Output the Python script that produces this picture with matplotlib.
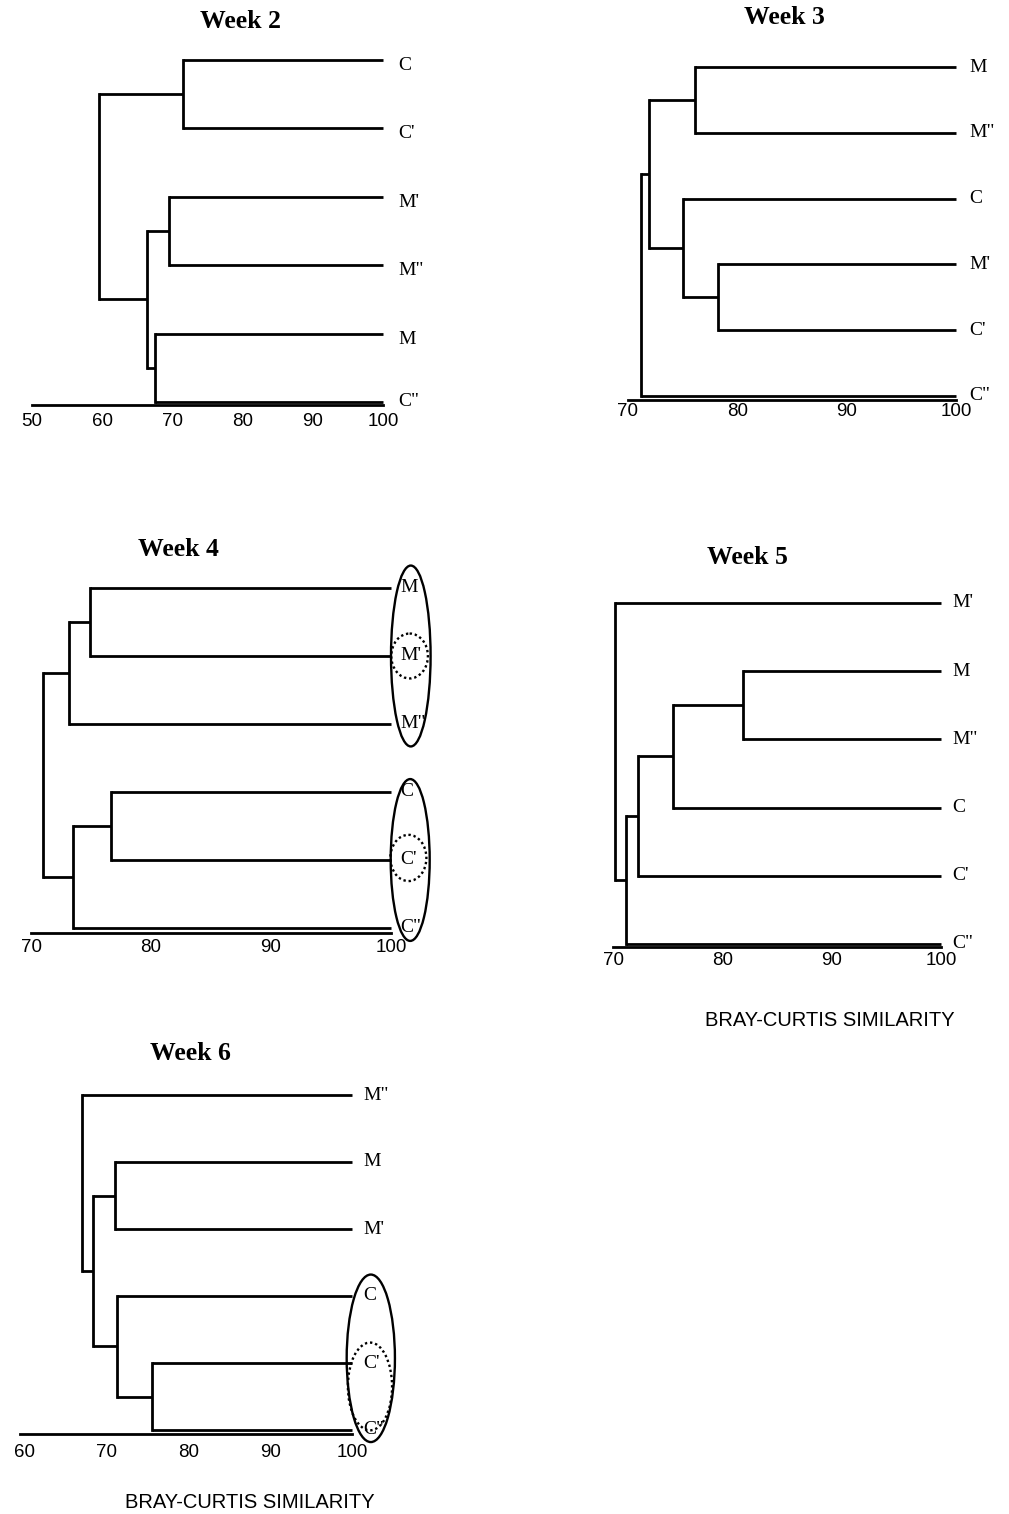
import matplotlib
matplotlib.use("Agg")
import matplotlib.pyplot as plt
from matplotlib.patches import Ellipse

# ---------------- data ----------------
week2_leaves = ["C", "C'", "M'", 'M"', "M", 'C"']
week2_merges = [(0, 1, 71.5), (2, 3, 69.5), (4, 5, 67.5), (7, 8, 66.4), (6, 9, 59.5)]
week2_ticks = [50, 60, 70, 80, 90, 100]

week3_leaves = ["M", 'M"', "C", "M'", "C'", 'C"']
week3_merges = [(0, 1, 76.1), (3, 4, 78.2), (2, 7, 75.0), (6, 8, 71.9), (9, 5, 71.2)]
week3_ticks = [70, 80, 90, 100]

week4_leaves = ["M", "M'", 'M"', "C", "C'", 'C"']
week4_merges = [(0, 1, 74.9), (6, 2, 73.2), (3, 4, 76.7), (8, 5, 73.5), (7, 9, 71.0)]
week4_ticks = [70, 80, 90, 100]
week4_groups = [[0, 1, 2], [1], [3, 4, 5], [4]]

week5_leaves = ["M'", "M", 'M"', "C", "C'", 'C"']
week5_merges = [(1, 2, 81.9), (6, 3, 75.5), (7, 4, 72.3), (8, 5, 71.2), (0, 9, 70.2)]
week5_ticks = [70, 80, 90, 100]

week6_leaves = ['M"', "M", "M'", "C", "C'", 'C"']
week6_merges = [(1, 2, 71.0), (4, 5, 75.5), (3, 7, 71.3), (6, 8, 68.3), (0, 9, 67.0)]
week6_ticks = [60, 70, 80, 90, 100]
week6_groups = [[3, 4, 5], [4, 5]]

xlabel_text = "BRAY-CURTIS SIMILARITY"

# ---------------- style / layout ----------------
W, H = 1009, 1514
fig = plt.figure(figsize=(W / 100, H / 100), dpi=100)
fig.patch.set_facecolor("white")

SERIF = ["Liberation Serif", "DejaVu Serif"]
SANS = ["Liberation Sans", "DejaVu Sans"]
LW = 2.0


def panel(leaves, merges, ticks, xlo, left, right, first_px, last_px, axis_px,
          tick_pad, lab_off, title, title_xy, groups=None, ell_style=None, lab_dy=0):
    n = len(leaves)
    sp = (last_px - first_px) / (n - 1)
    axis_idx = (axis_px - first_px) / sp
    top = first_px - 0.5 * sp
    ax = fig.add_axes([left / W, 1 - axis_px / H, (right - left) / W, (axis_px - top) / H])
    ax.set_xlim(xlo, 100)
    ax.set_ylim(axis_idx, -0.5)
    for s in ["top", "right", "left"]:
        ax.spines[s].set_visible(False)
    ax.spines["bottom"].set_linewidth(LW)
    ax.set_yticks([])
    ax.set_xticks(ticks)
    ax.set_xticklabels([str(t) for t in ticks])
    ax.tick_params(axis="x", length=0, pad=tick_pad)
    for lbl in ax.get_xticklabels():
        lbl.set_fontfamily(SANS)
        lbl.set_fontsize(13.5)
    ax.patch.set_alpha(0)

    # node positions
    ypos = {i: float(i) for i in range(n)}
    xpos = {i: 100.0 for i in range(n)}
    for k, (a, b, s) in enumerate(merges):
        nid = n + k
        ax.plot([xpos[a], s], [ypos[a], ypos[a]], color="black", lw=LW,
                solid_capstyle="butt", clip_on=False)
        ax.plot([xpos[b], s], [ypos[b], ypos[b]], color="black", lw=LW,
                solid_capstyle="butt", clip_on=False)
        ax.plot([s, s], [ypos[a], ypos[b]], color="black", lw=LW,
                solid_capstyle="projecting", clip_on=False)
        ypos[nid] = (ypos[a] + ypos[b]) / 2
        xpos[nid] = s

    for i, name in enumerate(leaves):
        dy = lab_dy if i < n - 1 else 0
        ax.annotate(name, xy=(100, i), xytext=(lab_off, dy), textcoords="offset points",
                    ha="left", va="center", fontsize=14, family=SERIF,
                    annotation_clip=False)

    if groups:
        for g, st in zip(groups, ell_style):
            yc = sum(g) / len(g) + st.get("dy", 0)
            e = Ellipse((st["xc"], yc), st["w"], st["h"], fill=False,
                        lw=st.get("lw", 1.7), ls=st.get("ls", "-"),
                        color="black", clip_on=False)
            ax.add_patch(e)

    fig.text(title_xy[0] / W, 1 - title_xy[1] / H, title, ha="center", va="center",
             fontsize=18.5, fontweight="bold", family=SERIF)
    return ax


panel(week2_leaves, week2_merges, week2_ticks, 50, 32, 383, 60, 402, 405,
      5.5, 11, "Week 2", (240, 22), lab_dy=-4)
panel(week3_leaves, week3_merges, week3_ticks, 70, 628, 956, 67, 396, 400,
      2.5, 9.5, "Week 3", (784, 18))
panel(week4_leaves, week4_merges, week4_ticks, 70, 31, 391, 588, 928, 933,
      4.0, 7.0, "Week 4", (178, 550),
      groups=week4_groups,
      ell_style=[dict(xc=101.65, w=3.3, h=2.66),
                 dict(xc=101.55, w=3.05, h=0.66, ls=(0, (1, 1.2)), dy=0.0),
                 dict(xc=101.6, w=3.25, h=2.38),
                 dict(xc=101.45, w=3.0, h=0.68, ls=(0, (1, 1.2)), dy=-0.03)])
panel(week5_leaves, week5_merges, week5_ticks, 70, 613, 941, 603, 944, 947,
      3.5, 8.0, "Week 5", (747, 558))
panel(week6_leaves, week6_merges, week6_ticks, 59.4, 20, 352, 1095, 1430, 1434,
      7.0, 8.0, "Week 6", (190, 1053),
      groups=week6_groups,
      ell_style=[dict(xc=102.3, w=5.9, h=2.5, dy=-0.07),
                 dict(xc=102.2, w=5.4, h=1.31, ls=(0, (1, 1.2)), dy=-0.15)])

fig.text(830 / W, 1 - 1020 / H, xlabel_text, ha="center", va="center",
         fontsize=14.5, family=SANS)
fig.text(250 / W, 1 - 1503 / H, xlabel_text, ha="center", va="center",
         fontsize=14.5, family=SANS)

fig.savefig("out.png", dpi=100, facecolor="white")
